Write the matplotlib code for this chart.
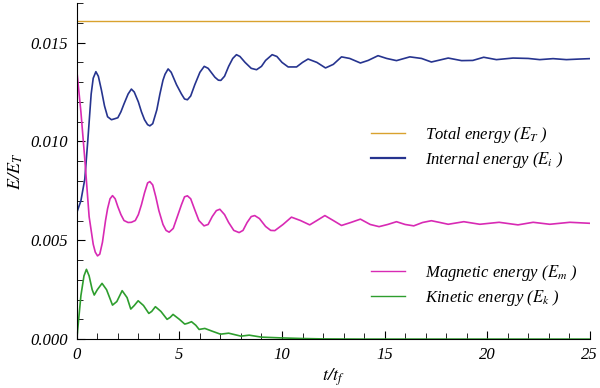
import matplotlib
matplotlib.use('Agg')
import matplotlib.pyplot as plt
from matplotlib.lines import Line2D
from matplotlib.ticker import MultipleLocator, FormatStrFormatter

plt.rcParams['font.family'] = ['Liberation Serif', 'DejaVu Serif']
plt.rcParams['font.style'] = 'italic'
plt.rcParams['mathtext.fontset'] = 'stix'

# values
t_total = [0, 25]
e_total = [0.01607, 0.01607]

t_int = [0, 0.2, 0.39, 0.54, 0.7, 0.8, 0.93, 1.05, 1.2, 1.35, 1.5, 1.69, 1.85, 2.0,
         2.15, 2.3, 2.5, 2.66, 2.8, 3.0, 3.15, 3.3, 3.45, 3.56, 3.7, 3.9, 4.05, 4.2,
         4.3, 4.45, 4.6, 4.86, 5.1, 5.25, 5.39, 5.55, 5.75, 6.0, 6.21, 6.4, 6.73,
         6.9, 7.02, 7.2, 7.4, 7.6, 7.78, 7.95, 8.2, 8.5, 8.76, 9.0, 9.2, 9.52, 9.75,
         10.0, 10.3, 10.71, 11.0, 11.27, 11.7, 12.12, 12.5, 12.9, 13.3, 13.82, 14.2,
         14.68, 15.1, 15.58, 16.23, 16.8, 17.28, 18.1, 18.75, 19.3, 19.83, 20.45,
         21.26, 22.0, 22.56, 23.21, 23.86, 24.5, 25]
e_int = [0.0064, 0.0070, 0.0081, 0.0101, 0.0124, 0.0132, 0.01353, 0.0133, 0.0126,
         0.0118, 0.01125, 0.0111, 0.01115, 0.0112, 0.0115, 0.0119, 0.0124, 0.01265,
         0.0125, 0.0120, 0.0115, 0.0111, 0.01085, 0.01079, 0.0109, 0.0116, 0.0124,
         0.0131, 0.0134, 0.01367, 0.0135, 0.01287, 0.0124, 0.01215, 0.01211, 0.0123,
         0.01287, 0.0135, 0.0138, 0.0137, 0.01325, 0.0131, 0.01309, 0.0133, 0.0138,
         0.0142, 0.01439, 0.0143, 0.0140, 0.0137, 0.01363, 0.0138, 0.0141, 0.01439,
         0.0143, 0.0140, 0.01377, 0.01377, 0.0140, 0.01417, 0.0140, 0.01372, 0.0139,
         0.01428, 0.0142, 0.01397, 0.0141, 0.01434, 0.0142, 0.01409, 0.01428, 0.0142,
         0.01402, 0.01422, 0.01409, 0.0141, 0.01426, 0.01414, 0.01422, 0.0142,
         0.01414, 0.01419, 0.01414, 0.01417, 0.01419]

t_mag = [0, 0.2, 0.39, 0.6, 0.8, 0.9, 1.01, 1.12, 1.25, 1.4, 1.5, 1.62, 1.74, 1.87,
         2.0, 2.15, 2.3, 2.5, 2.66, 2.85, 3.0, 3.15, 3.3, 3.45, 3.56, 3.7, 3.85, 4.0,
         4.2, 4.35, 4.5, 4.7, 4.9, 5.1, 5.25, 5.39, 5.55, 5.75, 5.95, 6.2, 6.4, 6.6,
         6.8, 6.97, 7.2, 7.4, 7.65, 7.91, 8.1, 8.3, 8.5, 8.67, 8.9, 9.2, 9.45, 9.65,
         10.05, 10.46, 10.9, 11.35, 11.7, 12.09, 12.5, 12.9, 13.35, 13.82, 14.3,
         14.73, 15.15, 15.58, 16.0, 16.42, 16.85, 17.28, 17.7, 18.1, 18.86, 19.64,
         20.58, 21.5, 22.24, 23.05, 24.03, 25]
e_mag = [0.0136, 0.0115, 0.0091, 0.0062, 0.0048, 0.0044, 0.00421, 0.0043, 0.0049,
         0.0060, 0.0066, 0.0071, 0.00726, 0.0071, 0.0067, 0.0063, 0.0060, 0.0059,
         0.00591, 0.0060, 0.0063, 0.0068, 0.0074, 0.0079, 0.00797, 0.0078, 0.0072,
         0.0065, 0.0058, 0.0055, 0.00541, 0.0056, 0.0062, 0.0068, 0.0072, 0.00725,
         0.0071, 0.00654, 0.0060, 0.00573, 0.0058, 0.0062, 0.0065, 0.00657, 0.0063,
         0.0059, 0.0055, 0.00539, 0.0055, 0.0059, 0.0062, 0.00625, 0.0061, 0.0057,
         0.0055, 0.00549, 0.0058, 0.00617, 0.0060, 0.00578, 0.0060, 0.00625, 0.0060,
         0.00575, 0.0059, 0.00607, 0.0058, 0.00569, 0.0058, 0.00594, 0.0058, 0.00573,
         0.0059, 0.00599, 0.0059, 0.00581, 0.00594, 0.00581, 0.00591, 0.00578,
         0.00591, 0.00581, 0.00591, 0.00586]

t_kin = [0, 0.1, 0.2, 0.35, 0.47, 0.6, 0.75, 0.85, 1.0, 1.23, 1.45, 1.74, 1.95,
         2.21, 2.45, 2.63, 2.8, 2.99, 3.25, 3.51, 3.65, 3.83, 4.1, 4.4, 4.55, 4.69,
         5.0, 5.26, 5.4, 5.59, 5.8, 5.96, 6.24, 6.6, 7.0, 7.4, 8.0, 8.4, 9.0, 10.0,
         11.0, 12.0, 14.0, 25]
e_kin = [0.0, 0.0011, 0.0022, 0.0032, 0.00353, 0.0032, 0.0025, 0.00223, 0.0025,
         0.00282, 0.0025, 0.00172, 0.0019, 0.00245, 0.0021, 0.00152, 0.0017, 0.00194,
         0.0017, 0.0013, 0.0014, 0.00164, 0.0014, 0.0010, 0.0011, 0.00125, 0.0010,
         0.00076, 0.0008, 0.00088, 0.0007, 0.00049, 0.00054, 0.0004, 0.00025, 0.0003,
         0.00015, 0.0002, 0.0001, 0.00006, 0.00003, 0.00001, 0.0, 0.0]

c_total = '#d9a22e'
c_int = '#26348f'
c_mag = '#d82ab4'
c_kin = '#2e9e2e'

fig = plt.figure(figsize=(6, 3.88), dpi=100)
ax = fig.add_axes([0.128, 0.126, 0.855, 0.866])

ax.plot(t_total, e_total, color=c_total, lw=1.0)
ax.plot(t_int, e_int, color=c_int, lw=1.2)
ax.plot(t_mag, e_mag, color=c_mag, lw=1.2)
ax.plot(t_kin, e_kin, color=c_kin, lw=1.2)

ax.set_xlim(0, 25)
ax.set_ylim(0, 0.017)
ax.spines['top'].set_visible(False)
ax.spines['right'].set_visible(False)
ax.xaxis.set_major_locator(MultipleLocator(5))
ax.xaxis.set_minor_locator(MultipleLocator(1))
ax.yaxis.set_major_locator(MultipleLocator(0.005))
ax.yaxis.set_minor_locator(MultipleLocator(0.001))
ax.yaxis.set_major_formatter(FormatStrFormatter('%.3f'))
ax.tick_params(which='major', direction='in', length=6, labelsize=12, pad=6)
ax.tick_params(which='minor', direction='in', length=4)

ax.set_xlabel(r'$t/t_f$', fontsize=13, labelpad=2)
ax.set_ylabel(r'$E/E_T$', fontsize=13, labelpad=4)

h1 = [Line2D([], [], color=c_total, lw=1.0), Line2D([], [], color=c_int, lw=1.6)]
leg1 = ax.legend(h1, [r'Total energy ($E_T$ )', r'Internal energy ($E_i$ )'],
                 loc='center left', bbox_to_anchor=(0.545, 0.57), frameon=False,
                 fontsize=12, handlelength=2.0, handletextpad=1.2, labelspacing=0.3)
ax.add_artist(leg1)
h2 = [Line2D([], [], color=c_mag, lw=1.0), Line2D([], [], color=c_kin, lw=1.0)]
ax.legend(h2, [r'Magnetic energy ($E_m$ )', r'Kinetic energy ($E_k$ )'],
          loc='center left', bbox_to_anchor=(0.545, 0.16), frameon=False,
          fontsize=12, handlelength=2.0, handletextpad=1.2, labelspacing=0.3)

fig.savefig('out.png', dpi=100)
